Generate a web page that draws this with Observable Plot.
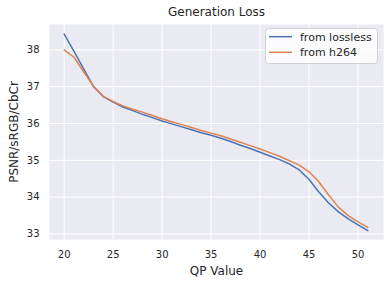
<!DOCTYPE html>
<html><head><meta charset="utf-8">
<script src="https://cdn.jsdelivr.net/npm/d3@7"></script>
<script src="https://cdn.jsdelivr.net/npm/@observablehq/plot@0.6"></script>
<style>body{margin:0;background:#fff} svg{display:block}</style>
</head><body><div id="chart"></div>
<script>
const qp = [20,21,22,23,24,25,26,27,28,29,30,31,32,33,34,35,36,37,38,39,40,41,42,43,44,45,46,47,48,49,50,51];
const lossless = [38.43,37.96,37.48,37.00,36.73,36.58,36.45,36.35,36.25,36.16,36.07,35.99,35.91,35.83,35.75,35.68,35.60,35.51,35.41,35.32,35.22,35.12,35.02,34.90,34.74,34.48,34.14,33.84,33.60,33.41,33.25,33.09];
const h264 =     [38.00,37.80,37.40,37.01,36.74,36.60,36.48,36.39,36.31,36.22,36.13,36.05,35.97,35.89,35.81,35.74,35.67,35.58,35.49,35.40,35.31,35.21,35.11,34.99,34.87,34.69,34.42,34.06,33.73,33.50,33.33,33.18];
const seriesNames = ["from lossless", "from h264"];
const colors = ["#4C72B0", "#DD8452"];
const xTicks = [20,25,30,35,40,45,50];
const yTicks = [33,34,35,36,37,38];
const title = "Generation Loss";
const xLabel = "QP Value";
const yLabel = "PSNR/sRGB/CbCr";

const data = qp.flatMap((q, i) => [
  {qp: q, v: lossless[i], s: seriesNames[0]},
  {qp: q, v: h264[i], s: seriesNames[1]}
]);

const font = "'DejaVu Sans', sans-serif";
const W = 389, H = 284, mL = 49, mR = 6, mT = 24, mB = 45;
const chart = Plot.plot({
  width: W, height: H, marginLeft: mL, marginRight: mR, marginTop: mT, marginBottom: mB,
  style: {fontFamily: font, background: "#fff", color: "#262626", fontSize: "10px"},
  x: {domain: [18.5, 52.6]},
  y: {domain: [32.85, 38.69]},
  color: {domain: seriesNames, range: colors},
  marks: [
    Plot.frame({fill: "#EAEAF2", stroke: null}),
    Plot.gridX(xTicks, {stroke: "#fff", strokeOpacity: 1, strokeWidth: 1}),
    Plot.gridY(yTicks, {stroke: "#fff", strokeOpacity: 1, strokeWidth: 1}),
    Plot.axisX(xTicks, {tickSize: 0, tickPadding: 11, label: null, fontSize: 10, fill: "#262626"}),
    Plot.axisY(yTicks, {tickSize: 0, tickPadding: 10, label: null, fontSize: 10, fill: "#262626"}),
    Plot.line(data, {x: "qp", y: "v", stroke: "s", strokeWidth: 1.5}),
    Plot.text([title], {frameAnchor: "top", dy: -12, fontSize: 12, fill: "#262626", lineAnchor: "middle"}),
    Plot.text([xLabel], {frameAnchor: "bottom", dy: 32, fontSize: 12, fill: "#262626", lineAnchor: "middle"}),
    Plot.text([yLabel], {frameAnchor: "left", dx: -35, rotate: -90, textAnchor: "middle", lineAnchor: "middle", fontSize: 12, fill: "#262626"})
  ]
});
document.getElementById("chart").appendChild(chart);

// legend inside plot, top-right
const svg = d3.select(chart);
const lg = svg.append("g").attr("font-family", font).attr("text-anchor", "start");
const lx = W - mR - 117.5, ly = mT + 4.5, lw = 112, lh = 35;
lg.append("rect").attr("x", lx).attr("y", ly).attr("width", lw).attr("height", lh)
  .attr("rx", 3).attr("fill", "#fff").attr("fill-opacity", 0.8).attr("stroke", "#d0d0d0").attr("stroke-width", 1);
seriesNames.forEach((name, i) => {
  const yy = ly + 8.2 + i * 15.6;
  lg.append("line").attr("x1", lx + 3.5).attr("x2", lx + 26.5).attr("y1", yy).attr("y2", yy)
    .attr("stroke", colors[i]).attr("stroke-width", 1.5);
  lg.append("text").attr("x", lx + 34.5).attr("y", yy).attr("dy", "0.35em")
    .attr("text-anchor", "start").attr("font-size", 11).attr("fill", "#262626").text(name);
});
</script>
</body></html>
